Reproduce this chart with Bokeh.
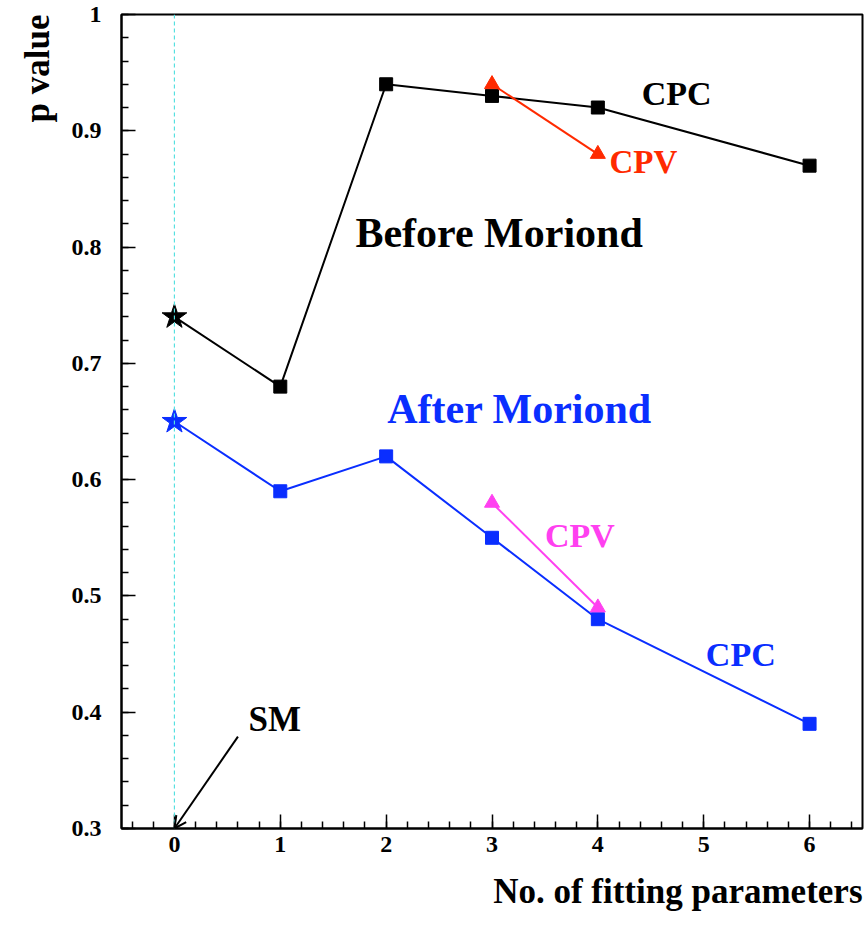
from bokeh.plotting import figure
from bokeh.models import (FixedTicker, CustomJSTickFormatter, Range1d, Span, Label,
                          Arrow, OpenHead, Title)
from bokeh.embed import file_html
from bokeh.resources import INLINE

# ---- data ----
n_params_before = [0, 1, 2, 3, 4, 6]
p_before = [0.74, 0.68, 0.94, 0.93, 0.92, 0.87]
cpv_before_x = [3, 4]
cpv_before_p = [0.94, 0.88]

n_params_after = [0, 1, 2, 3, 4, 6]
p_after = [0.65, 0.59, 0.62, 0.55, 0.48, 0.39]
cpv_after_x = [3, 4]
cpv_after_p = [0.58, 0.49]

x_ticks = [0, 1, 2, 3, 4, 5, 6]
y_ticks = [0.3, 0.4, 0.5, 0.6, 0.7, 0.8, 0.9, 1.0]
x_minor = [round(-0.4 + 0.2 * i, 2) for i in range(35)]
y_minor = [round(0.3 + 0.02 * i, 2) for i in range(36)]

x_title = "No. of fitting parameters"
y_title = "p value"

FONT = "Liberation Serif"
BLACK = "#000000"
RED = "#ff2a00"
BLUE = "#0a2eff"
MAGENTA = "#ff40f0"
CYAN = "#55e0e0"

p = figure(width=866, height=928, output_backend="svg", toolbar_location=None,
           x_range=Range1d(-0.5, 6.5), y_range=Range1d(0.3, 1.0),
           min_border_left=121, min_border_right=4, min_border_top=14,
           min_border_bottom=100)
p.grid.visible = False
p.background_fill_color = "white"
p.border_fill_color = "white"
p.outline_line_color = "black"
p.outline_line_width = 2

for ax, ticks, minor in ((p.xaxis[0], x_ticks, x_minor), (p.yaxis[0], y_ticks, y_minor)):
    ax.ticker = FixedTicker(ticks=ticks, minor_ticks=minor)
    ax.axis_line_width = 2
    ax.major_tick_in = 14
    ax.major_tick_out = 0
    ax.minor_tick_in = 7
    ax.minor_tick_out = 0
    ax.major_tick_line_width = 1.5
    ax.minor_tick_line_width = 1.5
    ax.major_label_text_font = FONT
    ax.major_label_text_font_style = "bold"
    ax.major_label_text_font_size = "24px"
    ax.major_label_text_color = "black"

p.yaxis[0].formatter = CustomJSTickFormatter(
    code="var s = tick.toFixed(1); return s.endsWith('.0') ? s.slice(0, -2) : s;")
p.xaxis[0].formatter = CustomJSTickFormatter(code="return tick.toFixed(0);")
p.yaxis[0].major_label_standoff = 20
p.xaxis[0].major_label_standoff = 8

# axis titles
p.add_layout(Title(text=x_title, align="right", text_font=FONT, text_font_style="bold",
                   text_font_size="35px", text_color="black", standoff=30), "below")
p.add_layout(Title(text=y_title, align="right", text_font=FONT, text_font_style="bold",
                   text_font_size="35px", text_color="black", standoff=24), "left")

# SM vertical dashed line
p.add_layout(Span(location=n_params_before[0], dimension="height", line_color=CYAN,
                  line_dash="4 3", line_width=1.2))

# Before Moriond
p.line(n_params_before, p_before, line_color=BLACK, line_width=2)
p.scatter(n_params_before[1:], p_before[1:], marker="square", size=13, color=BLACK)
p.scatter(n_params_before[:1], p_before[:1], marker="star", size=26, color=BLACK)
p.line(cpv_before_x, cpv_before_p, line_color=RED, line_width=2)
p.scatter(cpv_before_x, cpv_before_p, marker="triangle", size=15, color=RED)

# After Moriond
p.line(n_params_after, p_after, line_color=BLUE, line_width=2)
p.scatter(n_params_after[1:], p_after[1:], marker="square", size=13, color=BLUE)
p.scatter(n_params_after[:1], p_after[:1], marker="star", size=26, color=BLUE)
p.line(cpv_after_x, cpv_after_p, line_color=MAGENTA, line_width=2)
p.scatter(cpv_after_x, cpv_after_p, marker="triangle", size=15, color=MAGENTA)

# SM arrow
p.add_layout(Arrow(x_start=0.6, y_start=0.379, x_end=0.0, y_end=0.3,
                   line_width=2, line_color="black",
                   end=OpenHead(size=12, line_width=2, line_color="black")))


def lab(x, y, text, color, size):
    p.add_layout(Label(x=x, y=y, text=text, text_color=color, text_font=FONT,
                       text_font_style="bold", text_font_size=size,
                       text_align="left", text_baseline="alphabetic"))


lab(4.415, 0.932, "CPC", BLACK, "34px")
lab(4.11, 0.873, "CPV", RED, "33px")
lab(1.71, 0.812, "Before Moriond", BLACK, "42px")
lab(2.01, 0.661, "After Moriond", BLUE, "42px")
lab(3.5, 0.552, "CPV", MAGENTA, "34px")
lab(5.02, 0.450, "CPC", BLUE, "34px")
lab(0.70, 0.394, "SM", BLACK, "35px")

open("out.html", "w").write(file_html(p, INLINE))
